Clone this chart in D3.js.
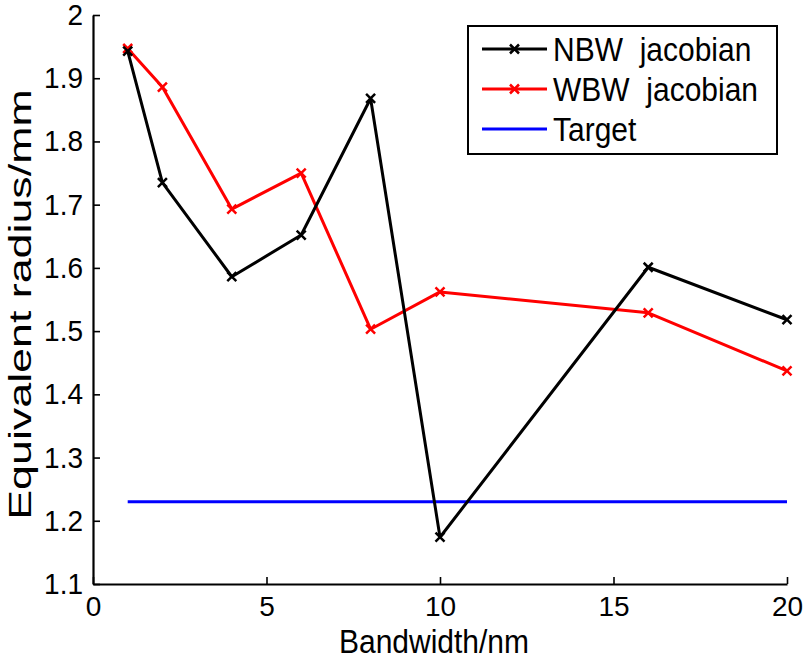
<!DOCTYPE html>
<html>
<head>
<meta charset="utf-8">
<script src="https://cdn.jsdelivr.net/npm/d3@7"></script>
<style>
  body { margin: 0; background: #fff; }
  text { font-family: "Liberation Sans", Arial, sans-serif; fill: #000; }
</style>
</head>
<body>
<div id="chart"></div>
<script>
// data
const bandwidth = [1, 2, 4, 6, 8, 10, 16, 20];
const nbwJacobian = [1.943, 1.735, 1.586, 1.652, 1.868, 1.174, 1.601, 1.518];
const wbwJacobian = [1.947, 1.886, 1.693, 1.750, 1.503, 1.562, 1.529, 1.437];
const targetX = [1, 20];
const targetValue = 1.23;
const xTicks = [0, 5, 10, 15, 20];
const yTicks = [1.1, 1.2, 1.3, 1.4, 1.5, 1.6, 1.7, 1.8, 1.9, 2];
const legendNames = ["NBW  jacobian", "WBW  jacobian", "Target"];

const width = 807,
    height = 659;

const plotLeft = 93, plotRight = 787, plotTop = 15, plotBottom = 584;

const svg = d3.select("#chart")
  .append("svg")
    .attr("width", width)
    .attr("height", height);

const x = d3.scaleLinear().domain([0, 20]).range([plotLeft, plotRight]);
const y = d3.scaleLinear().domain([1.1, 2]).range([plotBottom, plotTop]);

// axes, MATLAB style with inward ticks
const xAxis = svg.append("g")
    .attr("transform", `translate(0, ${plotBottom})`)
    .call(d3.axisBottom(x).tickValues(xTicks).tickSizeInner(-7).tickSizeOuter(0).tickPadding(12));
const yAxis = svg.append("g")
    .attr("transform", `translate(${plotLeft}, 0)`)
    .call(d3.axisLeft(y).tickValues(yTicks).tickSizeInner(-7).tickSizeOuter(0).tickPadding(10)
      .tickFormat(d => d === 2 ? "2" : d3.format(".1f")(d)));

[xAxis, yAxis].forEach(a => {
  a.select(".domain").attr("stroke", "#000").attr("stroke-width", 2.2);
  a.selectAll(".tick line").attr("stroke", "#000").attr("stroke-width", 1.6);
  a.selectAll(".tick text")
      .style("font-size", "28px")
      .attr("fill", "#000");
});
yAxis.selectAll(".tick text").attr("transform", "scale(1,1.06)");
xAxis.selectAll(".tick text").attr("dy", "0.71em");

svg.append("text")
    .attr("transform", `translate(${(plotLeft + plotRight) / 2 - 6}, 653) scale(1,1.08)`)
    .attr("text-anchor", "middle")
    .style("font-size", "30px")
    .text("Bandwidth/nm");

svg.append("text")
    .attr("transform", `translate(31, ${(plotTop + plotBottom) / 2 + 5}) rotate(-90) scale(1.4,1)`)
    .attr("text-anchor", "middle")
    .style("font-size", "32px")
    .text("Equivalent radius/mm");

const line = d3.line()
    .x(d => x(d[0]))
    .y(d => y(d[1]));

function cross(g, cx, cy, color) {
  const s = 4.5;
  g.append("path")
    .attr("d", `M${cx - s},${cy - s}L${cx + s},${cy + s}M${cx - s},${cy + s}L${cx + s},${cy - s}`)
    .attr("stroke", color)
    .attr("stroke-width", 2.5)
    .attr("fill", "none");
}

const series = [
  { values: nbwJacobian, color: "#000000" },
  { values: wbwJacobian, color: "#ff0000" }
];

// target first so the data lines sit on top
svg.append("path")
    .datum(targetX.map(v => [v, targetValue]))
    .attr("d", line)
    .attr("fill", "none")
    .attr("stroke", "#0000ff")
    .attr("stroke-width", 3);

series.slice().reverse().forEach(s => {
  const pts = bandwidth.map((b, i) => [b, s.values[i]]);
  svg.append("path")
      .datum(pts)
      .attr("d", line)
      .attr("fill", "none")
      .attr("stroke", s.color)
      .attr("stroke-width", 3)
      .attr("stroke-linejoin", "round");
  const g = svg.append("g");
  pts.forEach(p => cross(g, x(p[0]), y(p[1]), s.color));
});

// legend
const legend = svg.append("g");
legend.append("rect")
    .attr("x", 468)
    .attr("y", 26)
    .attr("width", 309)
    .attr("height", 128)
    .attr("fill", "#fff")
    .attr("stroke", "#000")
    .attr("stroke-width", 2);

const legendColors = ["#000000", "#ff0000", "#0000ff"];
legendNames.forEach((name, i) => {
  const ly = 49 + i * 40;
  legend.append("line")
      .attr("x1", 482).attr("x2", 547)
      .attr("y1", ly).attr("y2", ly)
      .attr("stroke", legendColors[i])
      .attr("stroke-width", 3);
  if (i < 2) cross(legend, 514.5, ly, legendColors[i]);
  legend.append("text")
      .attr("transform", `translate(553, ${ly + 12}) scale(1,1.12)`)
      .style("font-size", "30px")
      .style("white-space", "pre")
      .text(name);
});
</script>
</body>
</html>
